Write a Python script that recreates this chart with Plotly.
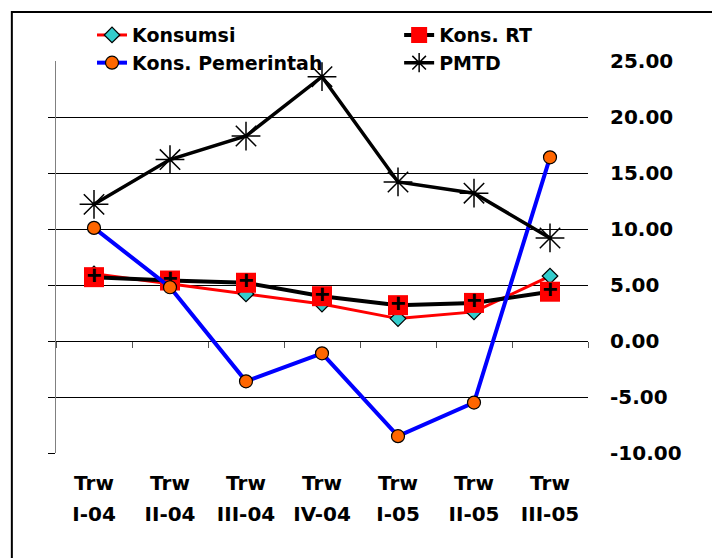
import plotly.graph_objects as go

quarters = ["Trw I-04", "Trw II-04", "Trw III-04", "Trw IV-04", "Trw I-05", "Trw II-05", "Trw III-05"]
konsumsi = [6.0, 5.1, 4.2, 3.3, 2.0, 2.6, 5.8]
kons_rt = [5.7, 5.4, 5.2, 4.0, 3.2, 3.4, 4.4]
kons_pemerintah = [10.1, 4.8, -3.6, -1.1, -8.5, -5.5, 16.4]
pmtd = [12.2, 16.2, 18.3, 23.6, 14.2, 13.2, 9.2]
y_ticks = [-10, -5, 0, 5, 10, 15, 20, 25]

FONT = dict(family="DejaVu Sans, Arial, sans-serif", size=20, color="black", weight="bold")
Y_RANGE = [-10, 25]
X_RANGE = [-0.5, len(quarters) - 0.5]
CAT_AXIS = dict(type="category", categoryorder="array", categoryarray=quarters, range=X_RANGE,
                showgrid=False, showline=False, zeroline=False)

fig = go.Figure()
fig.add_trace(go.Scatter(
    x=quarters, y=konsumsi, name="Konsumsi", mode="lines+markers", legend="legend",
    line=dict(color="#FF0000", width=3),
    marker=dict(symbol="diamond", size=12, color="#33CCCC", line=dict(color="black", width=1.2)),
))
fig.add_trace(go.Scatter(
    x=quarters, y=kons_rt, name="Kons. RT", mode="lines+markers+text", legend="legend2",
    line=dict(color="black", width=4),
    marker=dict(symbol="square", size=20, color="#FF0000"),
    text="+", textposition="middle center",
    textfont=dict(family="Liberation Sans, Arial", size=26, color="black"),
))
# overlay subplots carry the right-hand labels and the second label row
fig.add_trace(go.Scatter(
    x=quarters, y=kons_pemerintah, name="Kons. Pemerintah", mode="lines+markers", legend="legend",
    xaxis="x2", yaxis="y2",
    line=dict(color="#0000FF", width=4),
    marker=dict(symbol="circle", size=13, color="#FF6600", line=dict(color="black", width=1.2)),
))
fig.add_trace(go.Scatter(
    x=quarters, y=pmtd, name="PMTD", mode="lines+markers", legend="legend2",
    xaxis="x3", yaxis="y",
    line=dict(color="black", width=3.5),
    marker=dict(symbol="asterisk-open", size=24, color="black", line=dict(color="black", width=1.5)),
))

# outer chart border (runs off the right and bottom edges)
fig.add_shape(type="rect", xref="paper", yref="paper",
              x0=-0.083, x1=1.4, y0=-0.4, y1=1.125,
              line=dict(color="black", width=2), layer="below")

LEGEND = dict(orientation="v", xref="paper", yref="paper", y=1.1145, xanchor="left", yanchor="top",
              bgcolor="rgba(0,0,0,0)", font=dict(FONT, size=19), traceorder="normal",
              tracegroupgap=0)

# the page has an 8px body margin, so everything is shifted up/left by 8px
fig.update_layout(
    width=720, height=558,
    margin=dict(l=48, r=140, t=53, b=113, autoexpand=False),
    paper_bgcolor="white", plot_bgcolor="white",
    font=FONT,
    showlegend=True,
    legend=dict(LEGEND, x=0.0677),
    legend2=dict(LEGEND, x=0.645),
    xaxis=dict(
        CAT_AXIS, tickvals=quarters, ticktext=[q.split(" ")[0] for q in quarters],
        ticks="", ticklabelstandoff=16, tickfont=FONT, tickangle=0,
    ),
    # second line of the category labels
    xaxis2=dict(
        CAT_AXIS, overlaying="x", anchor="y2", side="bottom",
        tickvals=quarters, ticktext=[q.split(" ")[1] for q in quarters],
        ticks="", ticklabelstandoff=47, tickfont=FONT, tickangle=0,
    ),
    # tick marks on the zero line between categories
    xaxis3=dict(
        CAT_AXIS, overlaying="x", anchor="free",
        position=(0 - Y_RANGE[0]) / (Y_RANGE[1] - Y_RANGE[0]),
        tickson="boundaries", ticks="outside", ticklen=6, tickcolor="#555555", tickwidth=1,
        showticklabels=False,
    ),
    yaxis=dict(
        range=Y_RANGE, tickvals=y_ticks[:-1], ticks="outside", ticklen=7, tickcolor="black",
        showticklabels=False, showgrid=True, gridcolor="black", gridwidth=1, zeroline=False,
        showline=True, linecolor="#808080", linewidth=1,
    ),
    yaxis2=dict(
        overlaying="y", anchor="x2", side="right", range=Y_RANGE,
        tickvals=y_ticks, ticktext=[f"{v:.2f}" for v in y_ticks],
        ticks="", showgrid=False, zeroline=False, showline=False,
        ticklabelstandoff=21, tickfont=FONT,
    ),
)

fig.write_html("out.html")
